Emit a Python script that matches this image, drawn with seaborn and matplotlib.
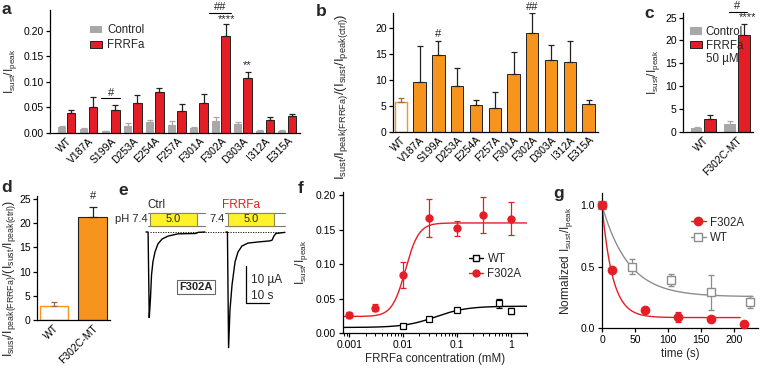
import numpy as np
import pandas as pd
import seaborn as sns
import matplotlib.pyplot as plt
from matplotlib.patches import Patch, Rectangle
from matplotlib.lines import Line2D

# ---- panel a / b : alanine mutants ----
mutants = ['WT', 'V187A', 'S199A', 'D253A', 'E254A', 'F257A',
           'F301A', 'F302A', 'D303A', 'I312A', 'E315A']
ctrl_mean = [0.012, 0.007, 0.003, 0.013, 0.021, 0.016, 0.009, 0.024, 0.017, 0.004, 0.004]
ctrl_err = [0.002, 0.003, 0.001, 0.006, 0.004, 0.007, 0.003, 0.008, 0.004, 0.001, 0.001]
frrfa_mean = [0.040, 0.050, 0.046, 0.059, 0.080, 0.044, 0.058, 0.191, 0.108, 0.025, 0.034]
frrfa_err = [0.005, 0.020, 0.008, 0.016, 0.008, 0.012, 0.018, 0.022, 0.011, 0.007, 0.004]
ratio_mean = [5.8, 9.5, 14.8, 8.9, 5.1, 4.6, 11.1, 19.0, 13.7, 13.4, 5.3]
ratio_err = [0.8, 7.0, 2.6, 3.4, 1.1, 3.1, 4.2, 3.8, 2.9, 4.0, 0.8]

# ---- panel c / d : F302C-MT ----
mt_groups = ['WT', 'F302C-MT']
mt_ctrl = [0.9, 1.8]
mt_ctrl_err = [0.25, 0.6]
mt_frrfa = [2.9, 21.3]
mt_frrfa_err = [0.9, 2.2]
mt_ratio = [2.8, 21.2]
mt_ratio_err = [1.0, 2.2]

# ---- panel e : example traces (s, uA) ----
ctrl_t = [-1.3, -0.4, 0.1, 0.6, 1.1, 1.7, 2.6, 3.9, 5.7, 8.3, 12.6, 20.4, 21.3, 24.3]
ctrl_i = [0, 0, -23.2, -18.4, -11.6, -8.1, -5.4, -3.2, -1.9, -1.1, -0.5, -0.4, -0.1, 0]
frrfa_t = [33.5, 34.1, 34.6, 35.2, 36.1, 37.4, 38.7, 40.4, 43.0, 47.4, 52.6, 53.5, 54.3, 55.2, 59.1]
frrfa_i = [0, 0, -31.4, -21.1, -14.3, -8.1, -5.4, -3.8, -3.0, -2.7, -2.4, -2.2, -1.1, -0.4, -0.1]

# ---- panel f : concentration response ----
wt_conc = [0.01, 0.03, 0.1, 0.6, 1.0]
wt_resp = [0.010, 0.021, 0.033, 0.043, 0.032]
wt_resp_err = [0.002, 0.002, 0.003, 0.006, 0.004]
mut_conc = [0.001, 0.003, 0.01, 0.03, 0.1, 0.3, 1.0]
mut_resp = [0.026, 0.037, 0.084, 0.167, 0.152, 0.172, 0.166]
mut_resp_err = [0.004, 0.005, 0.019, 0.028, 0.011, 0.026, 0.024]
# Hill fit parameters: bottom, top, EC50 (mM), n
wt_hill = [0.008, 0.039, 0.04, 1.5]
mut_hill = [0.024, 0.160, 0.011, 3.5]

# ---- panel g : washout ----
mut_time = [0, 15, 65, 115, 165, 215]
mut_norm = [1.0, 0.47, 0.15, 0.09, 0.07, 0.035]
mut_norm_err = [0.01, 0.01, 0.01, 0.04, 0.02, 0.01]
wt_time = [0, 45, 105, 165, 225]
wt_norm = [1.0, 0.50, 0.39, 0.29, 0.21]
wt_norm_err = [0.01, 0.06, 0.05, 0.14, 0.05]
# mono-exponential fit parameters: plateau, tau (s), end time
mut_decay = [0.085, 16, 210]
wt_decay = [0.255, 40, 228]

RED = '#E41E26'
ORANGE = '#F7941D'
GRAY = '#A8A8A8'
GRAY_G = '#8E8E8E'
DARK = '#222222'

sns.set_style('ticks')
plt.rcParams['font.family'] = ['Liberation Sans', 'DejaVu Sans']
plt.rcParams.update({
    'axes.linewidth': 0.9,
    'xtick.major.width': 0.9,
    'ytick.major.width': 0.9,
    'xtick.major.size': 3,
    'ytick.major.size': 3,
    'xtick.labelsize': 7.5,
    'ytick.labelsize': 7.5,
    'axes.labelsize': 8,
    'axes.edgecolor': 'black',
    'xtick.color': 'black',
    'ytick.color': 'black',
})

fig = plt.figure(figsize=(7.6, 3.69), dpi=100)
W, H = 760, 369


def px_axes(left, top, right, bottom):
    return fig.add_axes([left / W, 1 - bottom / H, (right - left) / W, (bottom - top) / H])


def up_errors(ax, container, err, color):
    xs = [p.get_x() + p.get_width() / 2 for p in container.patches]
    ys = [p.get_height() for p in container.patches]
    ax.errorbar(xs, ys, yerr=[np.zeros(len(err)), err], fmt='none', ecolor=color,
                elinewidth=0.9, capsize=2.3, capthick=0.9, zorder=1)


def style_bars(ax):
    sns.despine(ax=ax)
    ax.tick_params(axis='x', length=0, pad=2)
    ax.tick_params(axis='y', pad=1.5)
    for lbl in ax.get_xticklabels():
        lbl.set_rotation(45)
        lbl.set_ha('right')
        lbl.set_rotation_mode('anchor')
    ax.set_xlabel('')


def letter(x, y, s):
    fig.text(x / W, 1 - y / H, s, fontsize=12.5, fontweight='bold', va='top', ha='left')


ratio_label = r'$\mathregular{I_{sust}/I_{peak(FRRFa)}/(I_{sust}/I_{peak(ctrl)})}$'
ratio_simple = r'$\mathregular{I_{sust}/I_{peak}}$'

# ================= a =================
ax_a = px_axes(50, 10, 300, 133)
df_a = pd.DataFrame({'mutant': mutants * 2,
                     'cond': ['Control'] * len(mutants) + ['FRRFa'] * len(mutants),
                     'val': ctrl_mean + frrfa_mean})
sns.barplot(data=df_a, x='mutant', y='val', hue='cond', palette=[GRAY, RED],
            width=0.86, gap=0.12, errorbar=None, legend=False, saturation=1, ax=ax_a)
for p in ax_a.containers[0]:
    p.set_edgecolor('none')
for p in ax_a.containers[1]:
    p.set_edgecolor(DARK)
    p.set_linewidth(0.7)
up_errors(ax_a, ax_a.containers[0], ctrl_err, GRAY)
up_errors(ax_a, ax_a.containers[1], frrfa_err, DARK)
ax_a.set_ylim(0, 0.241)
ax_a.set_xlim(-0.75, 10.59)
ax_a.set_yticks([0, 0.05, 0.10, 0.15, 0.20])
ax_a.set_yticklabels(['0.00', '0.05', '0.10', '0.15', '0.20'])
ax_a.set_ylabel(ratio_simple, fontsize=8.5, labelpad=3)
style_bars(ax_a)
ax_a.legend(handles=[Patch(facecolor=GRAY, edgecolor='none'),
                     Patch(facecolor=RED, edgecolor=DARK, linewidth=0.7)],
            labels=['Control', 'FRRFa'], loc='upper left', bbox_to_anchor=(0.14, 0.92),
            frameon=False, fontsize=8.3, handlelength=1.1, handleheight=0.6,
            handletextpad=0.4, labelspacing=0.25, borderaxespad=0)
# significance marks
ax_a.plot([2 - 0.42, 2 + 0.42], [0.068, 0.068], color='k', lw=0.8)
ax_a.text(2, 0.069, '#', ha='center', va='bottom', fontsize=8)
ax_a.plot([7 - 0.55, 7 + 0.45], [0.236, 0.236], color='k', lw=0.8, clip_on=False)
ax_a.text(6.95, 0.237, '##', ha='center', va='bottom', fontsize=8)
ax_a.text(7.25, 0.213, '****', ha='center', va='bottom', fontsize=8)
ax_a.text(8.2, 0.124, '**', ha='center', va='bottom', fontsize=8)

# ================= b =================
ax_b = px_axes(393, 13, 598, 132)
sns.barplot(x=mutants, y=ratio_mean, color=ORANGE, width=0.66, saturation=1,
            errorbar=None, ax=ax_b)
bars_b = ax_b.containers[0]
for i, p in enumerate(bars_b):
    if i == 0:
        p.set_facecolor('white')
        p.set_edgecolor(ORANGE)
        p.set_linewidth(1.0)
    else:
        p.set_edgecolor(DARK)
        p.set_linewidth(0.7)
xs_b = [p.get_x() + p.get_width() / 2 for p in bars_b]
ax_b.errorbar(xs_b[:1], ratio_mean[:1], yerr=[[0], ratio_err[:1]], fmt='none',
              ecolor='#9A6A3A', elinewidth=0.9, capsize=2.3, capthick=0.9, zorder=1)
ax_b.errorbar(xs_b[1:], ratio_mean[1:], yerr=[np.zeros(10), ratio_err[1:]], fmt='none',
              ecolor=DARK, elinewidth=0.9, capsize=2.3, capthick=0.9, zorder=1)
ax_b.set_ylim(0, 22.8)
ax_b.set_xlim(-0.42, 10.5)
ax_b.set_yticks([0, 5, 10, 15, 20])
style_bars(ax_b)
ax_b.set_ylabel(ratio_label, fontsize=9.5)
ax_b.yaxis.set_label_coords(-0.21, 0.3)
ax_b.text(2, 17.9, '#', ha='center', va='bottom', fontsize=8)
ax_b.text(7, 23.0, '##', ha='center', va='bottom', fontsize=8, clip_on=False)

# ================= c =================
ax_c = px_axes(683, 13, 753, 132)
df_c = pd.DataFrame({'grp': mt_groups * 2,
                     'cond': ['Control'] * 2 + ['FRRFa'] * 2,
                     'val': mt_ctrl + mt_frrfa})
sns.barplot(data=df_c, x='grp', y='val', hue='cond', palette=[GRAY, RED],
            width=0.8, gap=0.12, errorbar=None, legend=False, saturation=1, ax=ax_c)
for p in ax_c.containers[0]:
    p.set_edgecolor('none')
for p in ax_c.containers[1]:
    p.set_edgecolor(DARK)
    p.set_linewidth(0.7)
up_errors(ax_c, ax_c.containers[0], mt_ctrl_err, GRAY)
up_errors(ax_c, ax_c.containers[1], mt_frrfa_err, DARK)
ax_c.set_ylim(0, 26)
ax_c.set_xlim(-0.6, 1.47)
ax_c.set_yticks([0, 5, 10, 15, 20, 25])
style_bars(ax_c)
ax_c.set_ylabel(ratio_simple, fontsize=8.5)
ax_c.yaxis.set_label_coords(-0.3, 0.5)
ax_c.legend(handles=[Patch(facecolor=GRAY, edgecolor='none'),
                     Patch(facecolor=RED, edgecolor=DARK, linewidth=0.7),
                     Patch(facecolor='none', edgecolor='none')],
            labels=['Control', 'FRRFa', '50 µM'], loc='upper left',
            bbox_to_anchor=(0.03, 0.93), frameon=False, fontsize=8.3,
            handlelength=1.1, handleheight=0.6, handletextpad=0.3,
            labelspacing=0.15, borderaxespad=0)
ax_c.plot([1 - 0.25, 1 + 0.28], [26.3, 26.3], color='k', lw=0.8, clip_on=False)
ax_c.text(1.0, 26.4, '#', ha='center', va='bottom', fontsize=8)
ax_c.text(1.3, 24.0, '****', ha='center', va='bottom', fontsize=8, clip_on=False)

# ================= d =================
ax_d = px_axes(37, 196, 110, 320)
sns.barplot(x=mt_groups, y=mt_ratio, color=ORANGE, width=0.74, saturation=1,
            errorbar=None, ax=ax_d)
bars_d = ax_d.containers[0]
bars_d[0].set_facecolor('white')
bars_d[0].set_edgecolor(ORANGE)
bars_d[0].set_linewidth(1.0)
bars_d[1].set_edgecolor(DARK)
bars_d[1].set_linewidth(0.8)
xs_d = [p.get_x() + p.get_width() / 2 for p in bars_d]
ax_d.errorbar(xs_d[:1], mt_ratio[:1], yerr=[[0], mt_ratio_err[:1]], fmt='none',
              ecolor='#9A6A3A', elinewidth=0.9, capsize=2.5, capthick=0.9, zorder=1)
ax_d.errorbar(xs_d[1:], mt_ratio[1:], yerr=[[0], mt_ratio_err[1:]], fmt='none',
              ecolor=DARK, elinewidth=0.9, capsize=3, capthick=0.9, zorder=1)
ax_d.set_ylim(0, 25.6)
ax_d.set_xlim(-0.44, 1.45)
ax_d.set_yticks([0, 5, 10, 15, 20, 25])
style_bars(ax_d)
ax_d.set_ylabel(ratio_label, fontsize=9)
ax_d.yaxis.set_label_coords(-0.26, 0.34)
ax_d.text(1, 24.6, '#', ha='center', va='bottom', fontsize=8, clip_on=False)

# ================= e =================
ax_e = px_axes(110, 190, 295, 365)
ax_e.set_xlim(-16.96, 63.48)
ax_e.set_ylim(-35.95, 11.35)
ax_e.axis('off')
box_top, box_bot = 5.14, 1.62
for x0, x1 in [(-0.4, 24.3), (33.0, 59.1)]:
    ax_e.plot([x0, x1], [box_top, box_top], color='#777777', lw=0.8)
    ax_e.plot([x0, x1], [box_bot, box_bot], color='#777777', lw=0.8)
for x0, x1 in [(0.4, 20.9), (34.3, 54.3)]:
    ax_e.add_patch(Rectangle((x0, box_bot), x1 - x0, box_top - box_bot,
                             facecolor='#FFF12A', edgecolor='#8A8A50', lw=0.8, zorder=3))
    ax_e.text((x0 + x1) / 2, (box_top + box_bot) / 2, '5.0', ha='center', va='center',
              fontsize=8, zorder=4)
ax_e.plot([0.4, 59.1], [0, 0], color='k', lw=0.6, ls=(0, (1.5, 1.5)))
ax_e.plot(ctrl_t, ctrl_i, color='k', lw=1.0, solid_joinstyle='miter')
ax_e.plot(frrfa_t, frrfa_i, color='k', lw=1.0, solid_joinstyle='miter')
ax_e.text(-0.6, 3.4, 'pH 7.4', ha='right', va='center', fontsize=8)
ax_e.text(32.8, 3.4, '7.4', ha='right', va='center', fontsize=8)
ax_e.text(-0.6, 5.6, 'Ctrl', ha='left', va='bottom', fontsize=8.3)
ax_e.text(40.0, 5.8, 'FRRFa', ha='center', va='bottom', fontsize=8.5, color=RED)
ax_e.plot([42.2, 42.2, 52.2], [-9.2, -19.2, -19.2], color='k', lw=0.9)
ax_e.text(44.2, -13.0, '10 µA', ha='left', va='center', fontsize=8.5)
ax_e.text(44.2, -17.3, '10 s', ha='left', va='center', fontsize=8.5)
ax_e.text(20.4, -14.9, 'F302A', ha='center', va='center', fontsize=8, fontweight='bold',
          bbox=dict(boxstyle='square,pad=0.2', facecolor='white', edgecolor='#666666', lw=0.8))

# ================= f =================
ax_f = px_axes(343, 192, 527, 333)
ax_f.set_xscale('log')
xfit = np.logspace(np.log10(7.6e-4), np.log10(2.0), 300)


def hill(x, p):
    return p[0] + (p[1] - p[0]) / (1 + (p[2] / x) ** p[3])


sns.lineplot(x=xfit, y=hill(xfit, mut_hill), color=RED, lw=1.0, ax=ax_f)
sns.lineplot(x=xfit, y=hill(xfit, wt_hill), color='k', lw=1.0, ax=ax_f)
ax_f.errorbar(mut_conc, mut_resp, yerr=mut_resp_err, fmt='o', color=RED, ms=5,
              elinewidth=0.9, capsize=2.5, capthick=0.9, zorder=4, clip_on=False)
ax_f.errorbar(wt_conc, wt_resp, yerr=wt_resp_err, fmt='s', color='k', mfc='white',
              mec='k', mew=0.9, ms=4.5, elinewidth=0.9, capsize=2.5, capthick=0.9, zorder=4)
ax_f.set_xlim(7.6e-4, 2.0)
ax_f.set_ylim(0, 0.205)
ax_f.set_xticks([0.001, 0.01, 0.1, 1])
ax_f.set_xticklabels(['0.001', '0.01', '0.1', '1'])
ax_f.set_yticks([0, 0.05, 0.10, 0.15, 0.20])
ax_f.set_yticklabels(['0.00', '0.05', '0.10', '0.15', '0.20'])
ax_f.tick_params(axis='x', which='minor', length=1.8, width=0.7)
ax_f.tick_params(pad=2)
sns.despine(ax=ax_f)
ax_f.set_xlabel('FRRFa concentration (mM)', fontsize=8.3, labelpad=2)
ax_f.set_ylabel(ratio_simple, fontsize=8.5, labelpad=4)
ax_f.legend(handles=[Line2D([], [], color='k', marker='s', mfc='white', mec='k', ms=4.5, lw=1),
                     Line2D([], [], color=RED, marker='o', ms=5, lw=1)],
            labels=['WT', 'F302A'], loc='upper left', bbox_to_anchor=(0.66, 0.6),
            frameon=False, fontsize=8.3, handlelength=1.2, handletextpad=0.4,
            labelspacing=0.3, borderaxespad=0)

# ================= g =================
ax_g = px_axes(602, 193, 758, 328)
t_mut = np.linspace(0, mut_decay[2], 200)
t_wt = np.linspace(0, wt_decay[2], 200)
sns.lineplot(x=t_wt, y=wt_decay[0] + (1 - wt_decay[0]) * np.exp(-t_wt / wt_decay[1]),
             color=GRAY_G, lw=1.0, ax=ax_g)
sns.lineplot(x=t_mut, y=mut_decay[0] + (1 - mut_decay[0]) * np.exp(-t_mut / mut_decay[1]),
             color=RED, lw=1.0, ax=ax_g)
ax_g.errorbar(wt_time, wt_norm, yerr=wt_norm_err, fmt='s', color=GRAY_G, mfc='white',
              mec=GRAY_G, mew=1.0, ms=6, elinewidth=0.9, capsize=2.5, capthick=0.9,
              zorder=4, clip_on=False)
ax_g.errorbar(mut_time, mut_norm, yerr=mut_norm_err, fmt='o', color=RED, ms=6,
              elinewidth=0.9, capsize=2.5, capthick=0.9, zorder=5, clip_on=False)
ax_g.set_xlim(0, 237)
ax_g.set_ylim(0, 1.1)
ax_g.set_xticks([0, 50, 100, 150, 200])
ax_g.set_yticks([0, 0.5, 1.0])
ax_g.set_yticklabels(['0.0', '0.5', '1.0'])
ax_g.tick_params(pad=2)
sns.despine(ax=ax_g)
ax_g.set_xlabel('time (s)', fontsize=8.3, labelpad=2)
ax_g.set_ylabel(r'$\mathregular{Normalized\ I_{sust}/I_{peak}}$', fontsize=8.5, labelpad=4)
ax_g.legend(handles=[Line2D([], [], color=RED, marker='o', ms=6, lw=1),
                     Line2D([], [], color=GRAY_G, marker='s', mfc='white', mec=GRAY_G, ms=6, lw=1)],
            labels=['F302A', 'WT'], loc='upper left', bbox_to_anchor=(0.54, 0.86),
            frameon=False, fontsize=8.3, handlelength=1.3, handletextpad=0.4,
            labelspacing=0.3, borderaxespad=0)

letter(2, 2, 'a')
letter(316, 4, 'b')
letter(644, 6, 'c')
letter(1, 180, 'd')
letter(118, 183, 'e')
letter(298, 181, 'f')
letter(553, 186, 'g')

fig.savefig('out.png', dpi=100)
